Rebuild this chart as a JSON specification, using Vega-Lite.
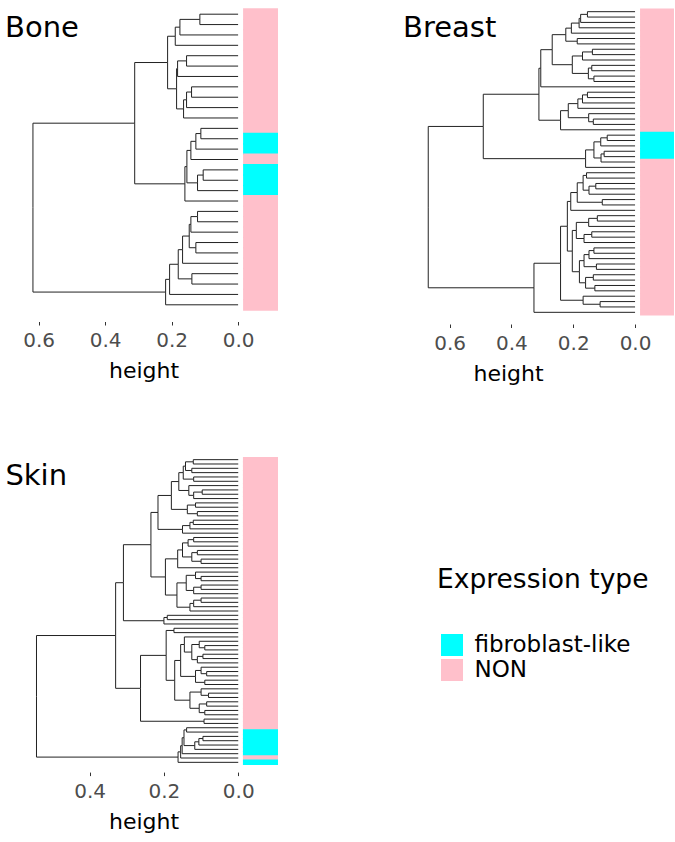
{
  "$schema": "https://vega.github.io/schema/vega-lite/v6.json",
  "background": "white",
  "padding": {"left": 5, "top": 4, "right": 0, "bottom": 0},
  "config": {
    "view": {"stroke": null},
    "font": "DejaVu Sans",
    "axis": {
      "domain": false, "grid": false, "ticks": true, "tickSize": 3.5, "tickColor": "#333333", "tickWidth": 1,
      "labelFontSize": 20, "labelColor": "#4D4D4D", "labelPadding": 5.5, "labelFlush": false,
      "titleFontSize": 22, "titleFontWeight": "normal", "titleColor": "black", "titlePadding": 10
    },
    "title": {"fontSize": 29, "fontWeight": "normal", "color": "black", "anchor": "start", "frame": "group", "baseline": "alphabetic", "offset": -38.7}
  },
  "datasets": {
    "bone_edges": [
      {"hc":0,"yc":0,"hp":0.115,"yp":0.5},{"hc":0,"yc":1,"hp":0.115,"yp":0.5},
      {"hc":0.115,"yc":0.5,"hp":0.175,"yp":1.25},{"hc":0,"yc":2,"hp":0.175,"yp":1.25},
      {"hc":0.175,"yc":1.25,"hp":0.189,"yp":2.125},{"hc":0,"yc":3,"hp":0.189,"yp":2.125},
      {"hc":0,"yc":4,"hp":0.155,"yp":4.5},{"hc":0,"yc":5,"hp":0.155,"yp":4.5},
      {"hc":0.155,"yc":4.5,"hp":0.182,"yp":5.25},{"hc":0,"yc":6,"hp":0.182,"yp":5.25},
      {"hc":0,"yc":7,"hp":0.14,"yp":7.5},{"hc":0,"yc":8,"hp":0.14,"yp":7.5},
      {"hc":0.14,"yc":7.5,"hp":0.155,"yp":8.25},{"hc":0,"yc":9,"hp":0.155,"yp":8.25},
      {"hc":0.155,"yc":8.25,"hp":0.164,"yp":9.125},{"hc":0,"yc":10,"hp":0.164,"yp":9.125},
      {"hc":0.182,"yc":5.25,"hp":0.185,"yp":7.188},{"hc":0.164,"yc":9.125,"hp":0.185,"yp":7.188},
      {"hc":0.189,"yc":2.125,"hp":0.212,"yp":4.656},{"hc":0.185,"yc":7.188,"hp":0.212,"yp":4.656},
      {"hc":0,"yc":11,"hp":0.112,"yp":11.5},{"hc":0,"yc":12,"hp":0.112,"yp":11.5},
      {"hc":0.112,"yc":11.5,"hp":0.127,"yp":12.25},{"hc":0,"yc":13,"hp":0.127,"yp":12.25},
      {"hc":0.127,"yc":12.25,"hp":0.142,"yp":13.125},{"hc":0,"yc":14,"hp":0.142,"yp":13.125},
      {"hc":0,"yc":15,"hp":0.105,"yp":15.5},{"hc":0,"yc":16,"hp":0.105,"yp":15.5},
      {"hc":0.105,"yc":15.5,"hp":0.122,"yp":16.25},{"hc":0,"yc":17,"hp":0.122,"yp":16.25},
      {"hc":0.142,"yc":13.125,"hp":0.154,"yp":14.688},{"hc":0.122,"yc":16.25,"hp":0.154,"yp":14.688},
      {"hc":0.154,"yc":14.688,"hp":0.16,"yp":16.344},{"hc":0,"yc":18,"hp":0.16,"yp":16.344},
      {"hc":0.212,"yc":4.656,"hp":0.311,"yp":10.5},{"hc":0.16,"yc":16.344,"hp":0.311,"yp":10.5},
      {"hc":0,"yc":19,"hp":0.122,"yp":19.5},{"hc":0,"yc":20,"hp":0.122,"yp":19.5},
      {"hc":0.122,"yc":19.5,"hp":0.142,"yp":20.25},{"hc":0,"yc":21,"hp":0.142,"yp":20.25},
      {"hc":0,"yc":22,"hp":0.127,"yp":22.5},{"hc":0,"yc":23,"hp":0.127,"yp":22.5},
      {"hc":0.142,"yc":20.25,"hp":0.147,"yp":21.375},{"hc":0.127,"yc":22.5,"hp":0.147,"yp":21.375},
      {"hc":0.147,"yc":21.375,"hp":0.167,"yp":22.688},{"hc":0,"yc":24,"hp":0.167,"yp":22.688},
      {"hc":0,"yc":25,"hp":0.139,"yp":25.5},{"hc":0,"yc":26,"hp":0.139,"yp":25.5},
      {"hc":0.167,"yc":22.688,"hp":0.18,"yp":24.094},{"hc":0.139,"yc":25.5,"hp":0.18,"yp":24.094},
      {"hc":0.18,"yc":24.094,"hp":0.206,"yp":25.547},{"hc":0,"yc":27,"hp":0.206,"yp":25.547},
      {"hc":0.206,"yc":25.547,"hp":0.218,"yp":26.773},{"hc":0,"yc":28,"hp":0.218,"yp":26.773},
      {"hc":0.311,"yc":10.5,"hp":0.617,"yp":18.637},{"hc":0.218,"yc":26.773,"hp":0.617,"yp":18.637}
    ],
    "bone_leaves": [
      {"leaf":0,"type":"NON"},{"leaf":1,"type":"NON"},{"leaf":2,"type":"NON"},{"leaf":3,"type":"NON"},{"leaf":4,"type":"NON"},
      {"leaf":5,"type":"NON"},{"leaf":6,"type":"NON"},{"leaf":7,"type":"NON"},{"leaf":8,"type":"NON"},{"leaf":9,"type":"NON"},
      {"leaf":10,"type":"NON"},{"leaf":11,"type":"NON"},{"leaf":12,"type":"fibroblast-like"},{"leaf":13,"type":"fibroblast-like"},{"leaf":14,"type":"NON"},
      {"leaf":15,"type":"fibroblast-like"},{"leaf":16,"type":"fibroblast-like"},{"leaf":17,"type":"fibroblast-like"},{"leaf":18,"type":"NON"},{"leaf":19,"type":"NON"},
      {"leaf":20,"type":"NON"},{"leaf":21,"type":"NON"},{"leaf":22,"type":"NON"},{"leaf":23,"type":"NON"},{"leaf":24,"type":"NON"},
      {"leaf":25,"type":"NON"},{"leaf":26,"type":"NON"},{"leaf":27,"type":"NON"},{"leaf":28,"type":"NON"}
    ],
    "breast_edges": [
      {"hc":0,"yc":0,"hp":0.154,"yp":0.5},{"hc":0,"yc":1,"hp":0.154,"yp":0.5},
      {"hc":0.154,"yc":0.5,"hp":0.176,"yp":1.25},{"hc":0,"yc":2,"hp":0.176,"yp":1.25},
      {"hc":0.176,"yc":1.25,"hp":0.181,"yp":2.125},{"hc":0,"yc":3,"hp":0.181,"yp":2.125},
      {"hc":0.181,"yc":2.125,"hp":0.206,"yp":3.063},{"hc":0,"yc":4,"hp":0.206,"yp":3.063},
      {"hc":0,"yc":5,"hp":0.187,"yp":5.5},{"hc":0,"yc":6,"hp":0.187,"yp":5.5},
      {"hc":0.206,"yc":3.063,"hp":0.224,"yp":4.281},{"hc":0.187,"yc":5.5,"hp":0.224,"yp":4.281},
      {"hc":0,"yc":7,"hp":0.138,"yp":7.5},{"hc":0,"yc":8,"hp":0.138,"yp":7.5},
      {"hc":0.138,"yc":7.5,"hp":0.17,"yp":8.25},{"hc":0,"yc":9,"hp":0.17,"yp":8.25},
      {"hc":0,"yc":10,"hp":0.14,"yp":10.5},{"hc":0,"yc":11,"hp":0.14,"yp":10.5},
      {"hc":0,"yc":12,"hp":0.133,"yp":12.5},{"hc":0,"yc":13,"hp":0.133,"yp":12.5},
      {"hc":0.14,"yc":10.5,"hp":0.151,"yp":11.5},{"hc":0.133,"yc":12.5,"hp":0.151,"yp":11.5},
      {"hc":0.17,"yc":8.25,"hp":0.203,"yp":9.875},{"hc":0.151,"yc":11.5,"hp":0.203,"yp":9.875},
      {"hc":0.224,"yc":4.281,"hp":0.268,"yp":7.078},{"hc":0.203,"yc":9.875,"hp":0.268,"yp":7.078},
      {"hc":0.268,"yc":7.078,"hp":0.305,"yp":10.539},{"hc":0,"yc":14,"hp":0.305,"yp":10.539},
      {"hc":0,"yc":15,"hp":0.154,"yp":15.5},{"hc":0,"yc":16,"hp":0.154,"yp":15.5},
      {"hc":0.154,"yc":15.5,"hp":0.17,"yp":16.25},{"hc":0,"yc":17,"hp":0.17,"yp":16.25},
      {"hc":0.17,"yc":16.25,"hp":0.185,"yp":17.125},{"hc":0,"yc":18,"hp":0.185,"yp":17.125},
      {"hc":0,"yc":20,"hp":0.135,"yp":20.5},{"hc":0,"yc":21,"hp":0.135,"yp":20.5},
      {"hc":0,"yc":19,"hp":0.15,"yp":19.75},{"hc":0.135,"yc":20.5,"hp":0.15,"yp":19.75},
      {"hc":0.185,"yc":17.125,"hp":0.216,"yp":18.438},{"hc":0.15,"yc":19.75,"hp":0.216,"yp":18.438},
      {"hc":0.216,"yc":18.438,"hp":0.241,"yp":20.219},{"hc":0,"yc":22,"hp":0.241,"yp":20.219},
      {"hc":0.305,"yc":10.539,"hp":0.311,"yp":15.379},{"hc":0.241,"yc":20.219,"hp":0.311,"yp":15.379},
      {"hc":0,"yc":23,"hp":0.09,"yp":23.5},{"hc":0,"yc":24,"hp":0.09,"yp":23.5},
      {"hc":0.09,"yc":23.5,"hp":0.111,"yp":24.25},{"hc":0,"yc":25,"hp":0.111,"yp":24.25},
      {"hc":0,"yc":26,"hp":0.1,"yp":26.5},{"hc":0,"yc":27,"hp":0.1,"yp":26.5},
      {"hc":0.1,"yc":26.5,"hp":0.11,"yp":27.25},{"hc":0,"yc":28,"hp":0.11,"yp":27.25},
      {"hc":0.111,"yc":24.25,"hp":0.133,"yp":25.75},{"hc":0.11,"yc":27.25,"hp":0.133,"yp":25.75},
      {"hc":0.133,"yc":25.75,"hp":0.16,"yp":27.375},{"hc":0,"yc":29,"hp":0.16,"yp":27.375},
      {"hc":0.311,"yc":15.379,"hp":0.491,"yp":21.377},{"hc":0.16,"yc":27.375,"hp":0.491,"yp":21.377},
      {"hc":0,"yc":30,"hp":0.157,"yp":30.5},{"hc":0,"yc":31,"hp":0.157,"yp":30.5},
      {"hc":0,"yc":32,"hp":0.127,"yp":32.5},{"hc":0,"yc":33,"hp":0.127,"yp":32.5},
      {"hc":0.127,"yc":32.5,"hp":0.149,"yp":33.25},{"hc":0,"yc":34,"hp":0.149,"yp":33.25},
      {"hc":0.157,"yc":30.5,"hp":0.168,"yp":31.875},{"hc":0.149,"yc":33.25,"hp":0.168,"yp":31.875},
      {"hc":0,"yc":35,"hp":0.106,"yp":35.5},{"hc":0,"yc":36,"hp":0.106,"yp":35.5},
      {"hc":0.168,"yc":31.875,"hp":0.187,"yp":33.688},{"hc":0.106,"yc":35.5,"hp":0.187,"yp":33.688},
      {"hc":0.187,"yc":33.688,"hp":0.208,"yp":35.344},{"hc":0,"yc":37,"hp":0.208,"yp":35.344},
      {"hc":0,"yc":38,"hp":0.122,"yp":38.5},{"hc":0,"yc":39,"hp":0.122,"yp":38.5},
      {"hc":0.122,"yc":38.5,"hp":0.15,"yp":39.25},{"hc":0,"yc":40,"hp":0.15,"yp":39.25},
      {"hc":0,"yc":41,"hp":0.14,"yp":41.5},{"hc":0,"yc":42,"hp":0.14,"yp":41.5},
      {"hc":0.14,"yc":41.5,"hp":0.165,"yp":42.25},{"hc":0,"yc":43,"hp":0.165,"yp":42.25},
      {"hc":0.15,"yc":39.25,"hp":0.19,"yp":40.75},{"hc":0.165,"yc":42.25,"hp":0.19,"yp":40.75},
      {"hc":0,"yc":44,"hp":0.133,"yp":44.5},{"hc":0,"yc":45,"hp":0.133,"yp":44.5},
      {"hc":0.133,"yc":44.5,"hp":0.149,"yp":45.25},{"hc":0,"yc":46,"hp":0.149,"yp":45.25},
      {"hc":0,"yc":47,"hp":0.125,"yp":47.5},{"hc":0,"yc":48,"hp":0.125,"yp":47.5},
      {"hc":0.149,"yc":45.25,"hp":0.165,"yp":46.375},{"hc":0.125,"yc":47.5,"hp":0.165,"yp":46.375},
      {"hc":0,"yc":49,"hp":0.135,"yp":49.5},{"hc":0,"yc":50,"hp":0.135,"yp":49.5},
      {"hc":0,"yc":51,"hp":0.13,"yp":51.5},{"hc":0,"yc":52,"hp":0.13,"yp":51.5},
      {"hc":0.135,"yc":49.5,"hp":0.16,"yp":50.5},{"hc":0.13,"yc":51.5,"hp":0.16,"yp":50.5},
      {"hc":0.165,"yc":46.375,"hp":0.18,"yp":48.438},{"hc":0.16,"yc":50.5,"hp":0.18,"yp":48.438},
      {"hc":0.19,"yc":40.75,"hp":0.203,"yp":44.594},{"hc":0.18,"yc":48.438,"hp":0.203,"yp":44.594},
      {"hc":0.208,"yc":35.344,"hp":0.219,"yp":39.969},{"hc":0.203,"yc":44.594,"hp":0.219,"yp":39.969},
      {"hc":0,"yc":54,"hp":0.113,"yp":54.5},{"hc":0,"yc":55,"hp":0.113,"yp":54.5},
      {"hc":0,"yc":53,"hp":0.168,"yp":53.75},{"hc":0.113,"yc":54.5,"hp":0.168,"yp":53.75},
      {"hc":0.219,"yc":39.969,"hp":0.241,"yp":46.859},{"hc":0.168,"yc":53.75,"hp":0.241,"yp":46.859},
      {"hc":0.241,"yc":46.859,"hp":0.327,"yp":51.43},{"hc":0,"yc":56,"hp":0.327,"yp":51.43},
      {"hc":0.491,"yc":21.377,"hp":0.669,"yp":36.403},{"hc":0.327,"yc":51.43,"hp":0.669,"yp":36.403}
    ],
    "breast_leaves": [
      {"leaf":0,"type":"NON"},{"leaf":1,"type":"NON"},{"leaf":2,"type":"NON"},{"leaf":3,"type":"NON"},{"leaf":4,"type":"NON"},
      {"leaf":5,"type":"NON"},{"leaf":6,"type":"NON"},{"leaf":7,"type":"NON"},{"leaf":8,"type":"NON"},{"leaf":9,"type":"NON"},
      {"leaf":10,"type":"NON"},{"leaf":11,"type":"NON"},{"leaf":12,"type":"NON"},{"leaf":13,"type":"NON"},{"leaf":14,"type":"NON"},
      {"leaf":15,"type":"NON"},{"leaf":16,"type":"NON"},{"leaf":17,"type":"NON"},{"leaf":18,"type":"NON"},{"leaf":19,"type":"NON"},
      {"leaf":20,"type":"NON"},{"leaf":21,"type":"NON"},{"leaf":22,"type":"NON"},{"leaf":23,"type":"fibroblast-like"},{"leaf":24,"type":"fibroblast-like"},
      {"leaf":25,"type":"fibroblast-like"},{"leaf":26,"type":"fibroblast-like"},{"leaf":27,"type":"fibroblast-like"},{"leaf":28,"type":"NON"},{"leaf":29,"type":"NON"},
      {"leaf":30,"type":"NON"},{"leaf":31,"type":"NON"},{"leaf":32,"type":"NON"},{"leaf":33,"type":"NON"},{"leaf":34,"type":"NON"},
      {"leaf":35,"type":"NON"},{"leaf":36,"type":"NON"},{"leaf":37,"type":"NON"},{"leaf":38,"type":"NON"},{"leaf":39,"type":"NON"},
      {"leaf":40,"type":"NON"},{"leaf":41,"type":"NON"},{"leaf":42,"type":"NON"},{"leaf":43,"type":"NON"},{"leaf":44,"type":"NON"},
      {"leaf":45,"type":"NON"},{"leaf":46,"type":"NON"},{"leaf":47,"type":"NON"},{"leaf":48,"type":"NON"},{"leaf":49,"type":"NON"},
      {"leaf":50,"type":"NON"},{"leaf":51,"type":"NON"},{"leaf":52,"type":"NON"},{"leaf":53,"type":"NON"},{"leaf":54,"type":"NON"},
      {"leaf":55,"type":"NON"},{"leaf":56,"type":"NON"}
    ],
    "skin_edges": [
      {"hc":0,"yc":0,"hp":0.121,"yp":0.5},{"hc":0,"yc":1,"hp":0.121,"yp":0.5},
      {"hc":0,"yc":2,"hp":0.125,"yp":2.5},{"hc":0,"yc":3,"hp":0.125,"yp":2.5},
      {"hc":0.121,"yc":0.5,"hp":0.142,"yp":1.5},{"hc":0.125,"yc":2.5,"hp":0.142,"yp":1.5},
      {"hc":0,"yc":4,"hp":0.12,"yp":4.5},{"hc":0,"yc":5,"hp":0.12,"yp":4.5},
      {"hc":0.142,"yc":1.5,"hp":0.148,"yp":3},{"hc":0.12,"yc":4.5,"hp":0.148,"yp":3},
      {"hc":0,"yc":7,"hp":0.097,"yp":7.5},{"hc":0,"yc":8,"hp":0.097,"yp":7.5},
      {"hc":0.097,"yc":7.5,"hp":0.12,"yp":8.25},{"hc":0,"yc":9,"hp":0.12,"yp":8.25},
      {"hc":0,"yc":6,"hp":0.133,"yp":7.125},{"hc":0.12,"yc":8.25,"hp":0.133,"yp":7.125},
      {"hc":0.148,"yc":3,"hp":0.16,"yp":5.063},{"hc":0.133,"yc":7.125,"hp":0.16,"yp":5.063},
      {"hc":0,"yc":10,"hp":0.115,"yp":10.5},{"hc":0,"yc":11,"hp":0.115,"yp":10.5},
      {"hc":0,"yc":12,"hp":0.11,"yp":12.5},{"hc":0,"yc":13,"hp":0.11,"yp":12.5},
      {"hc":0.115,"yc":10.5,"hp":0.137,"yp":11.5},{"hc":0.11,"yc":12.5,"hp":0.137,"yp":11.5},
      {"hc":0.16,"yc":5.063,"hp":0.18,"yp":8.281},{"hc":0.137,"yc":11.5,"hp":0.18,"yp":8.281},
      {"hc":0,"yc":14,"hp":0.121,"yp":14.5},{"hc":0,"yc":15,"hp":0.121,"yp":14.5},
      {"hc":0.121,"yc":14.5,"hp":0.13,"yp":15.25},{"hc":0,"yc":16,"hp":0.13,"yp":15.25},
      {"hc":0.13,"yc":15.25,"hp":0.15,"yp":16.125},{"hc":0,"yc":17,"hp":0.15,"yp":16.125},
      {"hc":0.18,"yc":8.281,"hp":0.216,"yp":12.203},{"hc":0.15,"yc":16.125,"hp":0.216,"yp":12.203},
      {"hc":0,"yc":18,"hp":0.12,"yp":18.5},{"hc":0,"yc":19,"hp":0.12,"yp":18.5},
      {"hc":0.12,"yc":18.5,"hp":0.135,"yp":19.25},{"hc":0,"yc":20,"hp":0.135,"yp":19.25},
      {"hc":0,"yc":21,"hp":0.11,"yp":21.5},{"hc":0,"yc":22,"hp":0.11,"yp":21.5},
      {"hc":0,"yc":23,"hp":0.1,"yp":23.5},{"hc":0,"yc":24,"hp":0.1,"yp":23.5},
      {"hc":0.11,"yc":21.5,"hp":0.125,"yp":22.5},{"hc":0.1,"yc":23.5,"hp":0.125,"yp":22.5},
      {"hc":0.135,"yc":19.25,"hp":0.15,"yp":20.875},{"hc":0.125,"yc":22.5,"hp":0.15,"yp":20.875},
      {"hc":0.15,"yc":20.875,"hp":0.163,"yp":22.938},{"hc":0,"yc":25,"hp":0.163,"yp":22.938},
      {"hc":0,"yc":27,"hp":0.1,"yp":27.5},{"hc":0,"yc":28,"hp":0.1,"yp":27.5},
      {"hc":0,"yc":26,"hp":0.115,"yp":26.75},{"hc":0.1,"yc":27.5,"hp":0.115,"yp":26.75},
      {"hc":0,"yc":29,"hp":0.1,"yp":29.5},{"hc":0,"yc":30,"hp":0.1,"yp":29.5},
      {"hc":0.1,"yc":29.5,"hp":0.12,"yp":30.25},{"hc":0,"yc":31,"hp":0.12,"yp":30.25},
      {"hc":0.115,"yc":26.75,"hp":0.14,"yp":28.5},{"hc":0.12,"yc":30.25,"hp":0.14,"yp":28.5},
      {"hc":0,"yc":32,"hp":0.1,"yp":32.5},{"hc":0,"yc":33,"hp":0.1,"yp":32.5},
      {"hc":0.1,"yc":32.5,"hp":0.12,"yp":33.25},{"hc":0,"yc":34,"hp":0.12,"yp":33.25},
      {"hc":0.12,"yc":33.25,"hp":0.13,"yp":34.125},{"hc":0,"yc":35,"hp":0.13,"yp":34.125},
      {"hc":0.14,"yc":28.5,"hp":0.165,"yp":31.313},{"hc":0.13,"yc":34.125,"hp":0.165,"yp":31.313},
      {"hc":0.163,"yc":22.938,"hp":0.196,"yp":27.125},{"hc":0.165,"yc":31.313,"hp":0.196,"yp":27.125},
      {"hc":0.216,"yc":12.203,"hp":0.235,"yp":19.664},{"hc":0.196,"yc":27.125,"hp":0.235,"yp":19.664},
      {"hc":0,"yc":36,"hp":0.191,"yp":36.5},{"hc":0,"yc":37,"hp":0.191,"yp":36.5},
      {"hc":0.191,"yc":36.5,"hp":0.2,"yp":37.25},{"hc":0,"yc":38,"hp":0.2,"yp":37.25},
      {"hc":0.235,"yc":19.664,"hp":0.309,"yp":28.457},{"hc":0.2,"yc":37.25,"hp":0.309,"yp":28.457},
      {"hc":0,"yc":39,"hp":0.173,"yp":39.5},{"hc":0,"yc":40,"hp":0.173,"yp":39.5},
      {"hc":0,"yc":43,"hp":0.09,"yp":43.5},{"hc":0,"yc":44,"hp":0.09,"yp":43.5},
      {"hc":0,"yc":42,"hp":0.105,"yp":42.75},{"hc":0.09,"yc":43.5,"hp":0.105,"yp":42.75},
      {"hc":0,"yc":45,"hp":0.095,"yp":45.5},{"hc":0,"yc":46,"hp":0.095,"yp":45.5},
      {"hc":0.095,"yc":45.5,"hp":0.11,"yp":46.25},{"hc":0,"yc":47,"hp":0.11,"yp":46.25},
      {"hc":0.105,"yc":42.75,"hp":0.125,"yp":44.5},{"hc":0.11,"yc":46.25,"hp":0.125,"yp":44.5},
      {"hc":0,"yc":41,"hp":0.145,"yp":42.75},{"hc":0.125,"yc":44.5,"hp":0.145,"yp":42.75},
      {"hc":0,"yc":49,"hp":0.085,"yp":49.5},{"hc":0,"yc":50,"hp":0.085,"yp":49.5},
      {"hc":0,"yc":48,"hp":0.1,"yp":48.75},{"hc":0.085,"yc":49.5,"hp":0.1,"yp":48.75},
      {"hc":0,"yc":51,"hp":0.09,"yp":51.5},{"hc":0,"yc":52,"hp":0.09,"yp":51.5},
      {"hc":0.1,"yc":48.75,"hp":0.115,"yp":50.125},{"hc":0.09,"yc":51.5,"hp":0.115,"yp":50.125},
      {"hc":0.145,"yc":42.75,"hp":0.155,"yp":46.438},{"hc":0.115,"yc":50.125,"hp":0.155,"yp":46.438},
      {"hc":0,"yc":54,"hp":0.08,"yp":54.5},{"hc":0,"yc":55,"hp":0.08,"yp":54.5},
      {"hc":0,"yc":53,"hp":0.1,"yp":53.75},{"hc":0.08,"yc":54.5,"hp":0.1,"yp":53.75},
      {"hc":0,"yc":56,"hp":0.085,"yp":56.5},{"hc":0,"yc":57,"hp":0.085,"yp":56.5},
      {"hc":0,"yc":58,"hp":0.09,"yp":58.5},{"hc":0,"yc":59,"hp":0.09,"yp":58.5},
      {"hc":0.085,"yc":56.5,"hp":0.105,"yp":57.5},{"hc":0.09,"yc":58.5,"hp":0.105,"yp":57.5},
      {"hc":0.1,"yc":53.75,"hp":0.13,"yp":55.625},{"hc":0.105,"yc":57.5,"hp":0.13,"yp":55.625},
      {"hc":0.155,"yc":46.438,"hp":0.171,"yp":51.031},{"hc":0.13,"yc":55.625,"hp":0.171,"yp":51.031},
      {"hc":0.173,"yc":39.5,"hp":0.194,"yp":45.266},{"hc":0.171,"yc":51.031,"hp":0.194,"yp":45.266},
      {"hc":0,"yc":60,"hp":0.092,"yp":60.5},{"hc":0,"yc":61,"hp":0.092,"yp":60.5},
      {"hc":0.194,"yc":45.266,"hp":0.263,"yp":52.883},{"hc":0.092,"yc":60.5,"hp":0.263,"yp":52.883},
      {"hc":0.309,"yc":28.457,"hp":0.33,"yp":40.67},{"hc":0.263,"yc":52.883,"hp":0.33,"yp":40.67},
      {"hc":0,"yc":64,"hp":0.095,"yp":64.5},{"hc":0,"yc":65,"hp":0.095,"yp":64.5},
      {"hc":0.095,"yc":64.5,"hp":0.106,"yp":65.25},{"hc":0,"yc":66,"hp":0.106,"yp":65.25},
      {"hc":0.106,"yc":65.25,"hp":0.117,"yp":66.125},{"hc":0,"yc":67,"hp":0.117,"yp":66.125},
      {"hc":0,"yc":62,"hp":0.139,"yp":62.5},{"hc":0,"yc":63,"hp":0.139,"yp":62.5},
      {"hc":0.139,"yc":62.5,"hp":0.146,"yp":64.313},{"hc":0.117,"yc":66.125,"hp":0.146,"yp":64.313},
      {"hc":0.146,"yc":64.313,"hp":0.151,"yp":66.156},{"hc":0,"yc":68,"hp":0.151,"yp":66.156},
      {"hc":0.151,"yc":66.156,"hp":0.155,"yp":67.578},{"hc":0,"yc":69,"hp":0.155,"yp":67.578},
      {"hc":0.155,"yc":67.578,"hp":0.162,"yp":68.789},{"hc":0,"yc":70,"hp":0.162,"yp":68.789},
      {"hc":0.33,"yc":40.67,"hp":0.543,"yp":54.73},{"hc":0.162,"yc":68.789,"hp":0.543,"yp":54.73}
    ],
    "skin_leaves": [
      {"leaf":0,"type":"NON"},{"leaf":1,"type":"NON"},{"leaf":2,"type":"NON"},{"leaf":3,"type":"NON"},{"leaf":4,"type":"NON"},
      {"leaf":5,"type":"NON"},{"leaf":6,"type":"NON"},{"leaf":7,"type":"NON"},{"leaf":8,"type":"NON"},{"leaf":9,"type":"NON"},
      {"leaf":10,"type":"NON"},{"leaf":11,"type":"NON"},{"leaf":12,"type":"NON"},{"leaf":13,"type":"NON"},{"leaf":14,"type":"NON"},
      {"leaf":15,"type":"NON"},{"leaf":16,"type":"NON"},{"leaf":17,"type":"NON"},{"leaf":18,"type":"NON"},{"leaf":19,"type":"NON"},
      {"leaf":20,"type":"NON"},{"leaf":21,"type":"NON"},{"leaf":22,"type":"NON"},{"leaf":23,"type":"NON"},{"leaf":24,"type":"NON"},
      {"leaf":25,"type":"NON"},{"leaf":26,"type":"NON"},{"leaf":27,"type":"NON"},{"leaf":28,"type":"NON"},{"leaf":29,"type":"NON"},
      {"leaf":30,"type":"NON"},{"leaf":31,"type":"NON"},{"leaf":32,"type":"NON"},{"leaf":33,"type":"NON"},{"leaf":34,"type":"NON"},
      {"leaf":35,"type":"NON"},{"leaf":36,"type":"NON"},{"leaf":37,"type":"NON"},{"leaf":38,"type":"NON"},{"leaf":39,"type":"NON"},
      {"leaf":40,"type":"NON"},{"leaf":41,"type":"NON"},{"leaf":42,"type":"NON"},{"leaf":43,"type":"NON"},{"leaf":44,"type":"NON"},
      {"leaf":45,"type":"NON"},{"leaf":46,"type":"NON"},{"leaf":47,"type":"NON"},{"leaf":48,"type":"NON"},{"leaf":49,"type":"NON"},
      {"leaf":50,"type":"NON"},{"leaf":51,"type":"NON"},{"leaf":52,"type":"NON"},{"leaf":53,"type":"NON"},{"leaf":54,"type":"NON"},
      {"leaf":55,"type":"NON"},{"leaf":56,"type":"NON"},{"leaf":57,"type":"NON"},{"leaf":58,"type":"NON"},{"leaf":59,"type":"NON"},
      {"leaf":60,"type":"NON"},{"leaf":61,"type":"NON"},{"leaf":62,"type":"NON"},{"leaf":63,"type":"fibroblast-like"},{"leaf":64,"type":"fibroblast-like"},
      {"leaf":65,"type":"fibroblast-like"},{"leaf":66,"type":"fibroblast-like"},{"leaf":67,"type":"fibroblast-like"},{"leaf":68,"type":"fibroblast-like"},{"leaf":69,"type":"NON"},
      {"leaf":70,"type":"fibroblast-like"}
    ]
  },
  "vconcat": [
    {
      "hconcat": [
        {
          "width": 269, "height": 311,
          "title": {"text": "Bone", "dx": -4},
          "layer": [
            {
              "data": {"name": "bone_leaves"},
              "mark": {"type": "bar", "size": 11.8},
              "encoding": {
                "x": {"datum": -0.015, "type": "quantitative",
                      "scale": {"domain": [-0.12, 0.689], "reverse": true, "nice": false, "zero": false},
                      "axis": {"values": [0, 0.2, 0.4, 0.6], "format": ".1f", "title": "height", "offset": 6.5}},
                "x2": {"datum": -0.12},
                "y": {"field": "leaf", "type": "quantitative", "scale": {"domain": [-0.5, 28.5], "reverse": true, "nice": false, "zero": false}, "axis": null},
                "color": {"field": "type", "type": "nominal",
                          "scale": {"domain": ["fibroblast-like", "NON"], "range": ["#00FFFF", "#FFC0CB"]},
                          "legend": {"orient": "none", "legendX": 428, "legendY": 563, "title": "Expression type", "titleLimit": 500, "labelLimit": 400,
                                     "titleFontSize": 26.5, "titleFontWeight": "normal", "titleColor": "black", "titlePadding": 40,
                                     "labelFontSize": 23, "labelColor": "black", "symbolType": "square", "symbolSize": 484,
                                     "symbolStrokeWidth": 0, "symbolOffset": 3.5, "labelOffset": 11, "rowPadding": 1, "padding": 0}}
              }
            },
            {
              "data": {"name": "bone_edges"},
              "mark": {"type": "rule", "color": "#222222", "strokeWidth": 1},
              "encoding": {"x": {"field": "hc", "type": "quantitative"}, "x2": {"field": "hp"}, "y": {"field": "yc", "type": "quantitative"}}
            },
            {
              "data": {"name": "bone_edges"},
              "mark": {"type": "rule", "color": "#222222", "strokeWidth": 1},
              "encoding": {"x": {"field": "hp", "type": "quantitative"}, "y": {"field": "yc", "type": "quantitative"}, "y2": {"field": "yp"}}
            }
          ]
        },
        {
          "width": 332, "height": 316,
          "title": {"text": "Breast", "dx": 61},
          "layer": [
            {
              "data": {"name": "breast_leaves"},
              "mark": {"type": "bar", "size": 6.6},
              "encoding": {
                "x": {"datum": -0.0162, "type": "quantitative",
                      "scale": {"domain": [-0.126, 0.948], "reverse": true, "nice": false, "zero": false},
                      "axis": {"values": [0, 0.2, 0.4, 0.6], "format": ".1f", "title": "height", "offset": 4}},
                "x2": {"datum": -0.126},
                "y": {"field": "leaf", "type": "quantitative", "scale": {"domain": [-0.5, 56.5], "reverse": true, "nice": false, "zero": false}, "axis": null},
                "color": {"field": "type", "type": "nominal"}
              }
            },
            {
              "data": {"name": "breast_edges"},
              "mark": {"type": "rule", "color": "#222222", "strokeWidth": 1},
              "encoding": {"x": {"field": "hc", "type": "quantitative"}, "x2": {"field": "hp"}, "y": {"field": "yc", "type": "quantitative"}}
            },
            {
              "data": {"name": "breast_edges"},
              "mark": {"type": "rule", "color": "#222222", "strokeWidth": 1},
              "encoding": {"x": {"field": "hp", "type": "quantitative"}, "y": {"field": "yc", "type": "quantitative"}, "y2": {"field": "yp"}}
            }
          ]
        }
      ],
      "spacing": 64
    },
    {
      "width": 269, "height": 317,
      "title": {"text": "Skin", "dx": -3.6},
      "layer": [
        {
          "data": {"name": "skin_leaves"},
          "mark": {"type": "bar", "size": 5.5},
          "encoding": {
            "x": {"datum": -0.0126, "type": "quantitative",
                  "scale": {"domain": [-0.107, 0.617], "reverse": true, "nice": false, "zero": false},
                  "axis": {"values": [0, 0.2, 0.4], "format": ".1f", "title": "height", "offset": 2.6}},
            "x2": {"datum": -0.107},
            "y": {"field": "leaf", "type": "quantitative", "scale": {"domain": [-0.5, 70.5], "reverse": true, "nice": false, "zero": false}, "axis": null},
            "color": {"field": "type", "type": "nominal"}
          }
        },
        {
          "data": {"name": "skin_edges"},
          "mark": {"type": "rule", "color": "#222222", "strokeWidth": 1},
          "encoding": {"x": {"field": "hc", "type": "quantitative"}, "x2": {"field": "hp"}, "y": {"field": "yc", "type": "quantitative"}}
        },
        {
          "data": {"name": "skin_edges"},
          "mark": {"type": "rule", "color": "#222222", "strokeWidth": 1},
          "encoding": {"x": {"field": "hp", "type": "quantitative"}, "y": {"field": "yc", "type": "quantitative"}, "y2": {"field": "yp"}}
        }
      ]
    }
  ],
  "spacing": 68.5
}
